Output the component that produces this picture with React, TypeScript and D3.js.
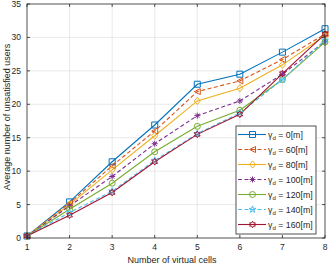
import { useEffect, useRef } from 'react';
import * as d3 from 'd3';

const cells = [1, 2, 3, 4, 5, 6, 7, 8];
const xTicks = [1, 2, 3, 4, 5, 6, 7, 8];
const yTicks = [0, 5, 10, 15, 20, 25, 30, 35];

const seriesNames = ['0', '60', '80', '100', '120', '140', '160'];
const g0 = [0.3, 5.4, 11.4, 16.9, 23.0, 24.5, 27.8, 31.3];
const g60 = [0.3, 5.2, 10.8, 16.0, 21.9, 23.5, 26.7, 30.5];
const g80 = [0.3, 5.0, 10.2, 15.3, 20.5, 22.4, 25.9, 30.3];
const g100 = [0.3, 4.8, 9.2, 14.1, 18.3, 20.5, 24.5, 29.4];
const g120 = [0.3, 4.3, 8.2, 12.9, 16.7, 19.1, 23.7, 29.3];
const g140 = [0.3, 3.8, 7.0, 11.6, 15.6, 18.7, 23.7, 29.6];
const g160 = [0.3, 3.4, 6.8, 11.4, 15.5, 18.5, 24.6, 30.5];

const colors = ['#0072BD', '#D95319', '#EDB120', '#7E2F8E', '#77AC30', '#4DBEEE', '#A2142F'];
const dashes = [null, '4,2.5', null, '4,2.5', null, '4,2.5', null];
const markers = ['square', 'triangleLeft', 'diamond', 'asterisk', 'circle', 'pentagram', 'hexagram'];

function markerPath(kind: string, s: number): string {
  const r = s / 2;
  switch (kind) {
    case 'square':
      return `M${-r},${-r}H${r}V${r}H${-r}Z`;
    case 'triangleLeft':
      return `M${-r},0L${r},${-r}L${r},${r}Z`;
    case 'diamond':
      return `M0,${-r * 1.2}L${r},0L0,${r * 1.2}L${-r},0Z`;
    case 'circle':
      return d3.arc()({ innerRadius: 0, outerRadius: r, startAngle: 0, endAngle: 2 * Math.PI }) as string;
    case 'asterisk': {
      let p = '';
      for (let i = 0; i < 4; i++) {
        const a = (i * Math.PI) / 4;
        p += `M${-r * Math.cos(a)},${-r * Math.sin(a)}L${r * Math.cos(a)},${r * Math.sin(a)}`;
      }
      return p;
    }
    case 'pentagram': {
      const pts: string[] = [];
      for (let i = 0; i < 10; i++) {
        const rr = i % 2 === 0 ? r * 1.2 : r * 0.48;
        const a = -Math.PI / 2 + (i * Math.PI) / 5;
        pts.push(`${rr * Math.cos(a)},${rr * Math.sin(a)}`);
      }
      return 'M' + pts.join('L') + 'Z';
    }
    case 'hexagram': {
      const pts: string[] = [];
      for (let i = 0; i < 12; i++) {
        const rr = i % 2 === 0 ? r * 1.1 : r * 0.62;
        const a = -Math.PI / 2 + (i * Math.PI) / 6;
        pts.push(`${rr * Math.cos(a)},${rr * Math.sin(a)}`);
      }
      return 'M' + pts.join('L') + 'Z';
    }
  }
  return '';
}

export default function App() {
  const ref = useRef<SVGSVGElement>(null);

  useEffect(() => {
    if (!ref.current) return;
    const svg = d3.select(ref.current);
    svg.selectAll('*').remove();

    const left = 27, right = 325, top = 4, bottom = 238;
    const x = d3.scaleLinear().domain([1, 8]).range([left, right]);
    const y = d3.scaleLinear().domain([0, 35]).range([bottom, top]);
    const font = 'Liberation Sans, Arial, sans-serif';
    const axisColor = '#262626';

    svg.append('rect').attr('x', left).attr('y', top).attr('width', right - left).attr('height', bottom - top).attr('fill', '#fff');

    // grid
    svg.append('g').selectAll('line').data(xTicks.slice(1, -1)).join('line')
      .attr('x1', (d) => x(d)).attr('x2', (d) => x(d)).attr('y1', top).attr('y2', bottom)
      .attr('stroke', '#e3e3e3').attr('stroke-width', 0.8);
    svg.append('g').selectAll('line').data(yTicks.slice(1, -1)).join('line')
      .attr('y1', (d) => y(d)).attr('y2', (d) => y(d)).attr('x1', left).attr('x2', right)
      .attr('stroke', '#e3e3e3').attr('stroke-width', 0.8);

    const data = [g0, g60, g80, g100, g120, g140, g160];
    const line = d3.line<number>().x((_, i) => x(cells[i])).y((d) => y(d));

    data.forEach((vals, k) => {
      svg.append('path').attr('d', line(vals)).attr('fill', 'none')
        .attr('stroke', colors[k]).attr('stroke-width', 1.1)
        .attr('stroke-dasharray', dashes[k]);
    });
    data.forEach((vals, k) => {
      svg.append('g').selectAll('path').data(vals).join('path')
        .attr('transform', (d, i) => `translate(${x(cells[i])},${y(d)})`)
        .attr('d', markerPath(markers[k], 6))
        .attr('fill', 'none').attr('stroke', colors[k]).attr('stroke-width', 1);
    });

    // axes box
    svg.append('rect').attr('x', left).attr('y', top).attr('width', right - left).attr('height', bottom - top)
      .attr('fill', 'none').attr('stroke', axisColor).attr('stroke-width', 0.8);

    const tl = 3;
    xTicks.forEach((t) => {
      svg.append('line').attr('x1', x(t)).attr('x2', x(t)).attr('y1', bottom).attr('y2', bottom - tl).attr('stroke', axisColor).attr('stroke-width', 0.8);
      svg.append('line').attr('x1', x(t)).attr('x2', x(t)).attr('y1', top).attr('y2', top + tl).attr('stroke', axisColor).attr('stroke-width', 0.8);
      svg.append('text').attr('x', x(t)).attr('y', bottom + 12).attr('text-anchor', 'middle')
        .attr('font-family', font).attr('font-size', 8.5).attr('fill', axisColor).text(t);
    });
    yTicks.forEach((t) => {
      svg.append('line').attr('y1', y(t)).attr('y2', y(t)).attr('x1', left).attr('x2', left + tl).attr('stroke', axisColor).attr('stroke-width', 0.8);
      svg.append('line').attr('y1', y(t)).attr('y2', y(t)).attr('x1', right).attr('x2', right - tl).attr('stroke', axisColor).attr('stroke-width', 0.8);
      svg.append('text').attr('x', left - 6).attr('y', y(t) + 3).attr('text-anchor', 'end')
        .attr('font-family', font).attr('font-size', 8.5).attr('fill', axisColor).text(t);
    });

    svg.append('text').attr('x', 172).attr('y', 263).attr('text-anchor', 'middle')
      .attr('font-family', font).attr('font-size', 9).attr('fill', axisColor).text('Number of virtual cells');
    svg.append('text').attr('transform', `translate(10,${(top + bottom) / 2 - 4}) rotate(-90)`).attr('text-anchor', 'middle')
      .attr('font-family', font).attr('font-size', 9).attr('fill', axisColor).text('Average number of unsatisfied users');

    // legend
    const lx = 236, ly = 126, lw = 80, lh = 108;
    svg.append('rect').attr('x', lx).attr('y', ly).attr('width', lw).attr('height', lh)
      .attr('fill', '#fff').attr('stroke', axisColor).attr('stroke-width', 0.8);
    seriesNames.forEach((name, k) => {
      const yy = ly + 8.5 + k * 15;
      svg.append('line').attr('x1', lx + 2).attr('x2', lx + 30).attr('y1', yy).attr('y2', yy)
        .attr('stroke', colors[k]).attr('stroke-width', 1.1).attr('stroke-dasharray', dashes[k]);
      svg.append('path').attr('transform', `translate(${lx + 16.5},${yy})`).attr('d', markerPath(markers[k], 6))
        .attr('fill', 'none').attr('stroke', colors[k]).attr('stroke-width', 1);
      const t = svg.append('text').attr('x', lx + 32).attr('y', yy + 3)
        .attr('font-family', font).attr('font-size', 8.8).attr('fill', axisColor);
      t.append('tspan').text('\u03b3');
      t.append('tspan').attr('font-size', 6).attr('dy', 2).text('d');
      t.append('tspan').attr('dy', -2).text(` = ${name}[m]`);
    });
  }, []);

  return (
    <svg ref={ref} width={329} height={266} style={{ position: 'absolute', left: 0, top: 0, background: '#fff' }} />
  );
}
